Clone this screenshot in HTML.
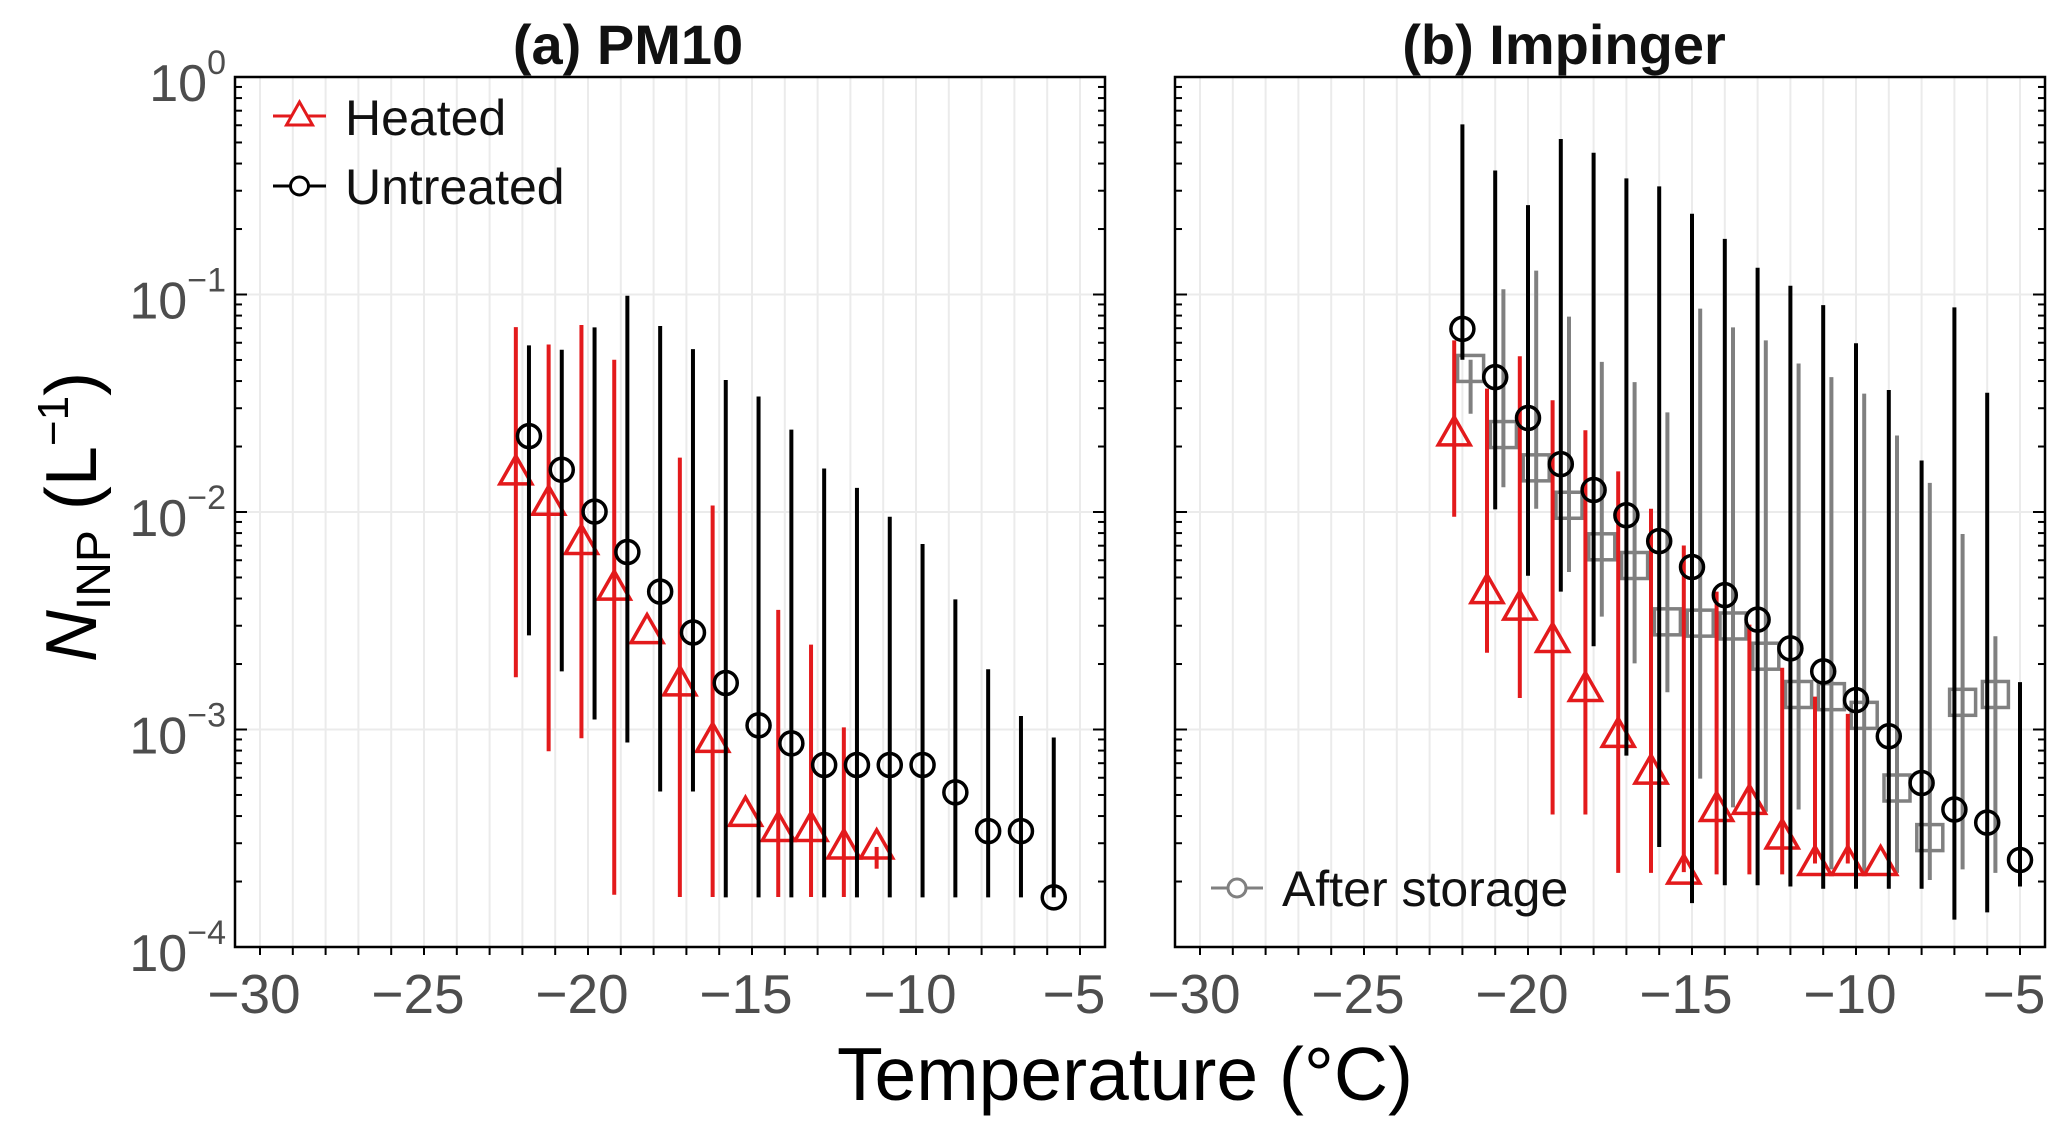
<!DOCTYPE html>
<html><head><meta charset="utf-8"><style>
html,body{margin:0;padding:0;background:#fff;}
svg{display:block;font-family:"Liberation Sans",sans-serif;}
</style></head><body>
<svg id="chart" width="2067" height="1128" viewBox="0 0 2067 1128" xmlns="http://www.w3.org/2000/svg">
<text x="628" y="64" font-size="56" font-weight="bold" text-anchor="middle" fill="#111">(a) PM10</text>
<text x="1564" y="64" font-size="56" font-weight="bold" text-anchor="middle" fill="#111">(b) Impinger</text>
<text x="1125" y="1100" font-size="75" text-anchor="middle" fill="#000">Temperature (°C)</text>
<text transform="translate(96,517) rotate(-90)" font-size="72" text-anchor="middle" fill="#000"><tspan font-style="italic">N</tspan><tspan font-size="48" dy="14">INP</tspan><tspan dy="-14"> (L</tspan><tspan font-size="44" dy="-28">−1</tspan><tspan dy="28">)</tspan></text>
<g id="layer"></g>
</svg>
<script>
// ---- data (values as log10 of N_INP, L^-1) ----
const aHeatedT0 = -22.2;
const aHeatedLog = [-1.82,-1.96,-2.14,-2.35,-2.55,-2.79,-3.05,-3.39,-3.46,-3.46,-3.54,-3.54];
const aHeatedHi  = [-1.15,-1.23,-1.14,-1.30,null,-1.75,-1.97,null,-2.45,-2.61,-2.99,null];
const aHeatedLo  = [-2.76,-3.10,-3.04,-3.76,null,-3.77,-3.77,null,-3.77,-3.77,-3.77,-3.64];
const aUntrT0 = -21.8;
const aUntrLog = [-1.651,-1.806,-1.998,-2.184,-2.366,-2.554,-2.786,-2.981,-3.064,-3.163,-3.163,-3.163,-3.163,-3.289,-3.467,-3.467,-3.772];
const aUntrHi  = [-1.234,-1.254,-1.151,-1.006,-1.145,-1.251,-1.393,-1.469,-1.621,-1.800,-1.889,-2.022,-2.147,-2.402,-2.723,-2.938,-3.037];
const aUntrLo  = [-2.567,-2.733,-2.954,-3.060,-3.285,-3.285,-3.772,-3.772,-3.772,-3.772,-3.772,-3.772,-3.772,-3.772,-3.772,-3.772,-3.772];
const bHeatedT0 = -22.25;
const bHeatedLog = [-1.641,-2.366,-2.442,-2.591,-2.816,-3.027,-3.196,-3.656,-3.368,-3.335,-3.494,-3.616,-3.616,-3.616];
const bHeatedHi  = [-1.211,-1.433,-1.284,-1.486,-1.624,-1.813,-1.985,-2.154,-2.366,-2.518,-2.716,-2.849,-2.928,null];
const bHeatedLo  = [-2.022,-2.647,-2.855,-3.391,-3.391,-3.659,-3.659,null,-3.666,-3.666,-3.666,null,null,null];
const bUntrT0 = -22.0;
const bUntrLog = [-1.158,-1.380,-1.568,-1.780,-1.899,-2.015,-2.134,-2.253,-2.382,-2.495,-2.627,-2.733,-2.865,-3.031,-3.246,-3.368,-3.428,-3.600];
const bUntrHi  = [-0.218,-0.430,-0.589,-0.285,-0.348,-0.466,-0.503,-0.629,-0.744,-0.877,-0.960,-1.049,-1.224,-1.439,-1.763,-1.059,-1.452,-2.782];
const bUntrLo  = [-1.300,-1.988,-2.293,-2.366,-2.617,-3.120,-3.540,-3.798,-3.716,-3.716,-3.722,-3.732,-3.732,-3.732,-3.732,-3.874,-3.841,-3.722];
const bStorT0 = -21.75;
const bStorLog = [-1.340,-1.644,-1.797,-1.969,-2.160,-2.246,-2.505,-2.511,-2.524,-2.663,-2.839,-2.849,-2.935,-3.269,-3.497,-2.875,-2.839];
const bStorHi  = [-1.300,-0.976,-0.890,-1.102,-1.310,-1.403,-1.542,-1.065,-1.151,-1.211,-1.317,-1.380,-1.456,-1.648,-1.866,-2.101,-2.571];
const bStorLo  = [-1.548,-1.886,-1.985,-2.276,-2.481,-2.696,-2.829,-3.226,-3.358,-3.378,-3.368,-3.643,-3.659,-3.659,-3.692,-3.643,-3.659];
const xTicks = [-30,-25,-20,-15,-10,-5];
const yDecades = [0,-1,-2,-3,-4];

const NS = "http://www.w3.org/2000/svg";
const layer = document.getElementById('layer');
const TOP = 77, BOT = 947, PXDEG = 32.8;
function yS(l){ return TOP + (-l) * (BOT - TOP) / 4; }
function mk(tag, attrs, parent){ const e = document.createElementNS(NS, tag); for (const k in attrs) e.setAttribute(k, attrs[k]); (parent||layer).appendChild(e); return e; }

function panel(id, left, xZero){
  const right = left + 870;
  const xS = t => xZero + (t + 30) * PXDEG;
  const g = mk('g', {});
  
  
  for (let t = -30; t <= -5; t++) {
    const l = mk('line', {x1:xS(t), x2:xS(t), y1:TOP, y2:BOT, stroke:'#ebebeb', 'stroke-width':2}, g);
    
    
  }
  for (const d of yDecades) {
    if (d === 0 || d === -4) continue;
    const l = mk('line', {x1:left, x2:right, y1:yS(d), y2:yS(d), stroke:'#ebebeb', 'stroke-width':2}, g);
    
    
  }
  for (let d = 0; d > -4; d--) {
    for (let m = 1; m <= 9; m++) {
      const y = yS(d - 1 + Math.log10(m));
      const len = m === 1 ? 12 : 7;
      mk('line', {x1:left, x2:left + len, y1:y, y2:y, stroke:'#000', 'stroke-width':2}, g);
      mk('line', {x1:right, x2:right - len, y1:y, y2:y, stroke:'#000', 'stroke-width':2}, g);
    }
  }
  for (let t = -30; t <= -5; t++) {
    mk('line', {x1:xS(t), x2:xS(t), y1:BOT, y2:BOT + 8, stroke:'#000', 'stroke-width':2}, g);
  }
  for (const t of xTicks) {
    const tx = mk('text', {x:xS(t) - 6, y:1013, 'font-size':55, 'text-anchor':'middle', fill:'#4d4d4d'}, g);
    tx.textContent = '−' + Math.abs(t);
    
    
  }
  const box = mk('rect', {x:left, y:TOP, width:870, height:BOT - TOP, fill:'none', stroke:'#000', 'stroke-width':2.5}, g);
  
  
  return {g, xS};
}

function series(p, name, t0, vals, hi, lo, color, shape){
  const xS = p.xS;
  const sg = mk('g', {}, p.g);
  
  
  vals.forEach((v, i) => {
    const x = xS(t0 + i);
    const h = hi[i] == null ? v : hi[i];
    const l = lo[i] == null ? v : lo[i];
    if (h !== l) {
      const b = mk('line', {x1:x, x2:x, y1:yS(h), y2:yS(l), stroke:color, 'stroke-width':4}, sg);
      
      
    }
  });
  vals.forEach((v, i) => {
    const x = xS(t0 + i), y = yS(v);
    let m;
    if (shape === 'circle') m = mk('circle', {cx:x, cy:y, r:11.5, fill:'none', stroke:color, 'stroke-width':3.5}, sg);
    else if (shape === 'square') m = mk('rect', {x:x - 13, y:y - 13, width:26, height:26, fill:'none', stroke:color, 'stroke-width':3.5}, sg);
    else m = mk('polygon', {points:`${x},${y-17} ${x-16},${y+11} ${x+16},${y+11}`, fill:'none', stroke:color, 'stroke-width':3.5}, sg);
    
    
  });
}

const pa = panel('a', 235, 260);
const pb = panel('b', 1175, 1200);

for (const d of yDecades) {
  const t = mk('text', {x:226, y:yS(d) + 24, 'font-size':52, 'text-anchor':'end', fill:'#4d4d4d'});
  t.innerHTML = '10<tspan font-size="34" dy="-27">' + (d === 0 ? '0' : '−' + Math.abs(d)) + '</tspan>';
  
  
}

series(pa, 'a-heated', aHeatedT0, aHeatedLog, aHeatedHi, aHeatedLo, '#e31a1c', 'tri');
series(pa, 'a-untreated', aUntrT0, aUntrLog, aUntrHi, aUntrLo, '#000', 'circle');
series(pb, 'b-storage', bStorT0, bStorLog, bStorHi, bStorLo, '#808080', 'square');
series(pb, 'b-heated', bHeatedT0, bHeatedLog, bHeatedHi, bHeatedLo, '#e31a1c', 'tri');
series(pb, 'b-untreated', bUntrT0, bUntrLog, bUntrHi, bUntrLo, '#000', 'circle');

function legend(name, x1, x2, y, color, shape, label, tx, ty){
  const g = mk('g', {});
  
  
  mk('line', {x1:x1, x2:x2, y1:y, y2:y, stroke:color, 'stroke-width':3}, g);
  const cx = (x1 + x2) / 2;
  if (shape === 'circle') mk('circle', {cx:cx, cy:y, r:9, fill:'#fff', stroke:color, 'stroke-width':3}, g);
  else mk('polygon', {points:`${cx},${y-14} ${cx-13},${y+9} ${cx+13},${y+9}`, fill:'#fff', stroke:color, 'stroke-width':3}, g);
  const t = mk('text', {x:tx, y:ty, 'font-size':50, fill:'#111'}, g);
  t.textContent = label;
}
legend('legend-heated', 273, 326, 116, '#e31a1c', 'tri', 'Heated', 345, 135);
legend('legend-untreated', 273, 326, 186, '#000', 'circle', 'Untreated', 345, 204);
legend('legend-after-storage', 1211, 1263, 888, '#808080', 'circle', 'After storage', 1282, 906);
</script>
</body></html>
